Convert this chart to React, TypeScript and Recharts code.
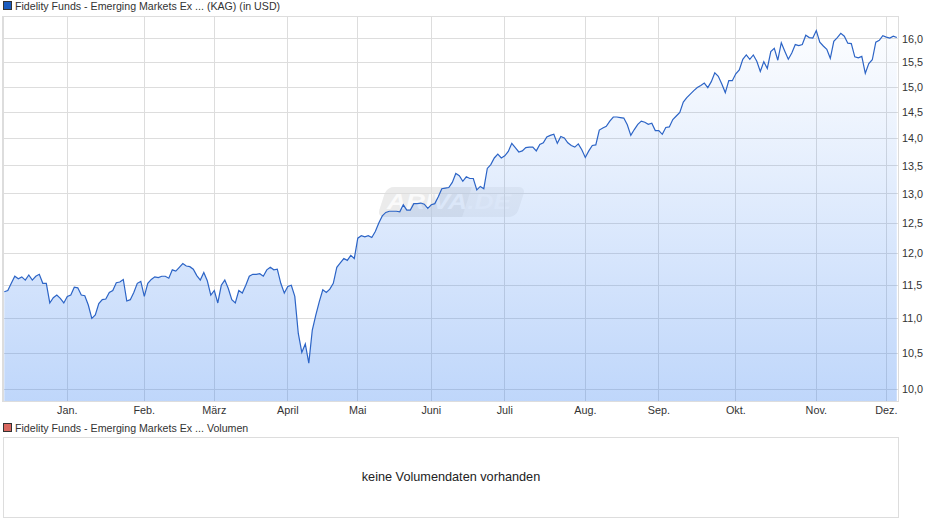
import { AreaChart, Area, XAxis, YAxis, CartesianGrid } from 'recharts'

const FONT = '"Liberation Sans", Arial, sans-serif'

const prices = [
  11.4, 11.42, 11.53, 11.64, 11.6, 11.63, 11.58, 11.66, 11.58, 11.64, 11.67, 11.53, 11.53, 11.23, 11.31, 11.35,
  11.3, 11.23, 11.33, 11.35, 11.47, 11.46, 11.35, 11.34, 11.2, 11.0, 11.05, 11.22, 11.28, 11.29, 11.39, 11.42,
  11.54, 11.55, 11.59, 11.26, 11.28, 11.39, 11.53, 11.56, 11.33, 11.53, 11.59, 11.63, 11.62, 11.64, 11.64, 11.61,
  11.74, 11.72, 11.78, 11.84, 11.8, 11.79, 11.75, 11.65, 11.58, 11.7, 11.57, 11.35, 11.42, 11.23, 11.5, 11.58,
  11.45, 11.28, 11.23, 11.42, 11.38, 11.5, 11.64, 11.67, 11.67, 11.68, 11.64, 11.74, 11.78, 11.74, 11.75, 11.53,
  11.38, 11.48, 11.5, 11.33, 10.78, 10.51, 10.63, 10.36, 10.83, 11.05, 11.25, 11.43, 11.39, 11.44, 11.53, 11.78,
  11.85, 11.92, 11.89, 11.97, 11.92, 12.25, 12.29, 12.27, 12.29, 12.26, 12.36, 12.5, 12.62, 12.68, 12.7, 12.7,
  12.7, 12.69, 12.81, 12.72, 12.72, 12.83, 12.83, 12.84, 12.82, 12.75, 12.81, 12.83, 12.95, 13.09, 13.1, 13.11,
  13.2, 13.36, 13.32, 13.22, 13.3, 13.27, 13.27, 13.07, 13.13, 13.09, 13.45, 13.52, 13.64, 13.71, 13.64, 13.68,
  13.76, 13.91, 13.83, 13.75, 13.77, 13.83, 13.84, 13.84, 13.77, 13.89, 13.92, 14.03, 14.06, 14.08, 13.91, 14.04,
  14.01, 13.92, 13.87, 13.84, 13.9, 13.79, 13.65, 13.77, 13.87, 13.88, 14.16, 14.2, 14.23, 14.33, 14.41, 14.41,
  14.4, 14.39, 14.26, 14.06, 14.17, 14.27, 14.33, 14.31, 14.27, 14.29, 14.15, 14.15, 14.08, 14.21, 14.22, 14.36,
  14.43, 14.5, 14.7, 14.79, 14.86, 14.93, 14.99, 15.03, 15.08, 14.99, 15.11, 15.29, 15.22, 15.06, 14.89, 15.13,
  15.13, 15.27, 15.35, 15.57, 15.66, 15.57, 15.66, 15.53, 15.32, 15.52, 15.38, 15.73, 15.8, 15.55, 15.92, 15.74,
  15.57, 15.7, 15.88, 15.86, 15.88, 16.08, 16.03, 16.02, 16.18, 15.93, 15.85, 15.78, 15.59, 15.95, 16.03, 16.12,
  16.06, 15.91, 15.9, 15.62, 15.6, 15.63, 15.28, 15.48, 15.56, 15.93, 15.97, 16.07, 16.04, 16.02, 16.06, 16.03,
]

// trading day index of each month start
const monthTicks = [18, 40, 60, 81, 101, 122, 143, 166, 187, 209, 232, 252]
const monthLabels = ['Jan.', 'Feb.', 'März', 'April', 'Mai', 'Juni', 'Juli', 'Aug.', 'Sep.', 'Okt.', 'Nov.', 'Dez.']
const priceTicks = [10, 10.5, 11, 11.5, 12, 12.5, 13, 13.5, 14, 14.5, 15, 15.5, 16]

const chartData = prices.map((price, day) => ({ day, price }))

const tickStyle = { fill: '#333', fontSize: 10.8, fontFamily: FONT }

function LegendRow({ top, color, text }: { top: number; color: string; text: string }) {
  return (
    <div style={{ position: 'absolute', left: 3, top, height: 12, font: `10.64px ${FONT}`, color: '#333', lineHeight: '12px', whiteSpace: 'nowrap' }}>
      <span style={{ position: 'absolute', left: 0, top: 1, width: 7, height: 7, background: color, border: '1px solid #333' }} />
      <span style={{ position: 'absolute', left: 12, top: 0 }}>{text}</span>
    </div>
  )
}

function Watermark() {
  return (
    <div style={{ position: 'absolute', left: 382, top: 187, width: 139, height: 30 }}>
      <div style={{ position: 'absolute', left: 0, top: 0, width: 139, height: 30, background: '#f4f4f4', borderRadius: 7, transform: 'skewX(-18deg)' }} />
      <div style={{ position: 'absolute', left: 0, top: 0, width: 85, height: 30, background: '#ebebeb', borderRadius: '7px 0 0 7px', transform: 'skewX(-18deg)' }} />
      <div style={{ position: 'absolute', left: 5, top: 2, font: `italic bold 22px ${FONT}`, color: '#fafafa', whiteSpace: 'nowrap', transform: 'scaleX(1.2)', transformOrigin: 'left center' }}>
        ARIVA<span style={{ color: '#f9f9f9' }}>.DE</span>
      </div>
    </div>
  )
}

export default function App() {
  return (
    <div style={{ position: 'absolute', left: 0, top: 0, width: 940, height: 526, background: '#fff', overflow: 'hidden' }}>
      <LegendRow top={0} color="#1a5cc0" text="Fidelity Funds - Emerging Markets Ex ... (KAG) (in USD)" />
      <div style={{ position: 'absolute', left: 2, top: 16, width: 897, height: 386, boxSizing: 'border-box', border: '1px solid #ddd' }} />
      <Watermark />
      <div style={{ position: 'absolute', left: 0, top: 0 }}>
        <AreaChart width={940} height={430} data={chartData} margin={{ top: 16, right: 0, bottom: 0, left: 3 }}>
          <defs>
            <linearGradient id="priceFill" x1="0" y1="0" x2="0" y2="1">
              <stop offset="0%" stopColor="#2a78f0" stopOpacity={0.015} />
              <stop offset="100%" stopColor="#2a78f0" stopOpacity={0.3} />
            </linearGradient>
          </defs>
          <CartesianGrid stroke="#ddd" strokeWidth={1} shapeRendering="crispEdges" />
          <XAxis
            dataKey="day"
            type="number"
            domain={[-0.371, 255.343]}
            ticks={monthTicks}
            interval={0}
            tickFormatter={(d: number) => monthLabels[monthTicks.indexOf(d)]}
            tick={tickStyle}
            tickLine={false}
            axisLine={false}
            tickSize={0}
            tickMargin={5}
            height={29}
          />
          <YAxis
            orientation="right"
            scale="log"
            domain={[9.847, 16.5]}
            ticks={priceTicks}
            interval={0}
            allowDataOverflow
            tickFormatter={(v: number) => v.toFixed(1).replace('.', ',')}
            tick={tickStyle}
            tickLine={false}
            axisLine={false}
            tickSize={0}
            tickMargin={4}
            width={42}
          />
          <Area
            type="linear"
            dataKey="price"
            stroke="#2c64c6"
            strokeWidth={1.2}
            fill="url(#priceFill)"
            fillOpacity={1}
            dot={false}
            activeDot={false}
            isAnimationActive={false}
          />
        </AreaChart>
      </div>
      <LegendRow top={422} color="#d9675f" text="Fidelity Funds - Emerging Markets Ex ... Volumen" />
      <div
        style={{
          position: 'absolute',
          left: 3,
          top: 437,
          width: 896,
          height: 81,
          boxSizing: 'border-box',
          border: '1px solid #ddd',
          font: `12.7px ${FONT}`,
          color: '#222',
          textAlign: 'center',
          lineHeight: '79px',
        }}
      >
        keine Volumendaten vorhanden
      </div>
    </div>
  )
}
